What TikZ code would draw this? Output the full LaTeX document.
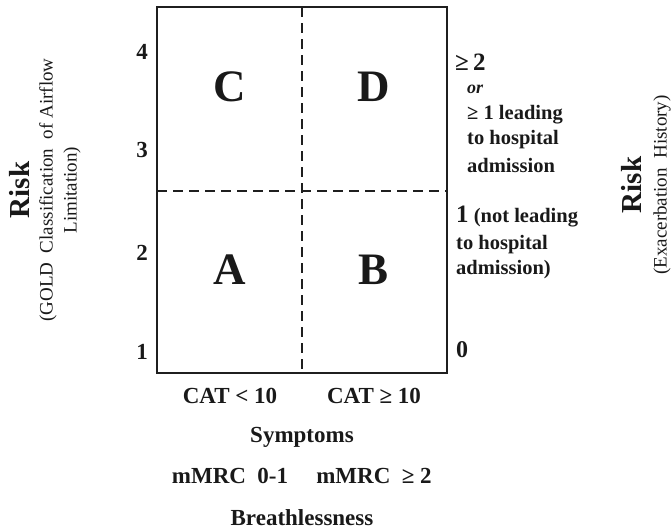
\documentclass[tikz,border=0pt]{standalone}
\usepackage{fontspec}
\setmainfont{Liberation Serif}
\begin{document}
\begin{tikzpicture}[x=1pt,y=-1pt,
  txt/.style={inner sep=0pt,text=black!90,font=\bfseries},
  big/.style={txt,font=\fontsize{45}{45}\selectfont\bfseries},
  num/.style={txt,font=\fontsize{23}{23}\selectfont\bfseries},
  lab/.style={txt,font=\fontsize{23}{23}\selectfont\bfseries},
  side/.style={txt,anchor=west,font=\fontsize{20.5}{20.5}\selectfont\bfseries},
  risk/.style={txt,rotate=90,font=\fontsize{29}{29}\selectfont\bfseries},
  sub/.style={txt,rotate=90,align=center,font=\fontsize{19}{24}\selectfont\mdseries},
  divider/.style={line width=1.3pt,black!88,dash pattern=on 10pt off 6pt}]
\useasboundingbox (0,0) rectangle (672,531);
% box
\coordinate (tl) at (157,7);
\coordinate (br) at (447,373);
\coordinate (vt) at (302,7);
\coordinate (vb) at (302,373);
\coordinate (hl) at (157,191);
\coordinate (hr) at (447,191);
\draw[divider] (vt) -- (vb);
\draw[divider] (hl) -- (hr);
\draw[line width=1.6pt,black!88] (tl) rectangle (br);
% quadrant letters
\node[big] (C) at (230,87) {C};
\node[big] (D) at (374,87) {D};
\node[big] (A) at (230,270) {A};
\node[big] (B) at (374,270) {B};
% left scale
\node[num] (n4) at (142,52) {4};
\node[num] (n3) at (142,150) {3};
\node[num] (n2) at (142,253) {2};
\node[num] (n1) at (142,352) {1};
% right scale
\node[side] (r2) at (455,62) {\fontsize{25}{25}\selectfont ≥\,2};
\node[side] (ror) at (467,89) {\fontsize{18}{18}\selectfont\itshape or};
\node[side] (r2a) at (467,115) {≥ 1 leading};
\node[side] (r2b) at (467,140) {to hospital};
\node[side] (r2c) at (467,165) {admission};
\node[side] (r1a) at (456,217) {{\fontsize{25}{25}\selectfont 1} (not leading};
\node[side] (r1b) at (456,245) {to hospital};
\node[side] (r1c) at (456,270) {admission)};
\node[side] (r0) at (456,350) {\fontsize{24}{24}\selectfont 0};
% bottom labels
\node[lab] (cat1) at (230,396) {CAT < 10};
\node[lab] (cat2) at (374,396) {CAT ≥ 10};
\node[lab] (sym) at (302,437) {Symptoms};
\node[lab] (mm1) at (230,476) {mMRC\ \ 0-1};
\node[lab] (mm2) at (374,476) {mMRC\ \ ≥ 2};
\node[lab] (bre) at (302,518) {Breathlessness};
% side titles
\node[risk] (riskL) at (20,190) {Risk};
\node[sub] (subL) at (60,190) {(GOLD\ \ Classification\ \ of\ Airflow\\Limitation)};
\node[risk] (riskR) at (632,185) {Risk};
\node[sub] (subR) at (662,185) {(Exacerbation\ \ History)};
\end{tikzpicture}
\end{document}
